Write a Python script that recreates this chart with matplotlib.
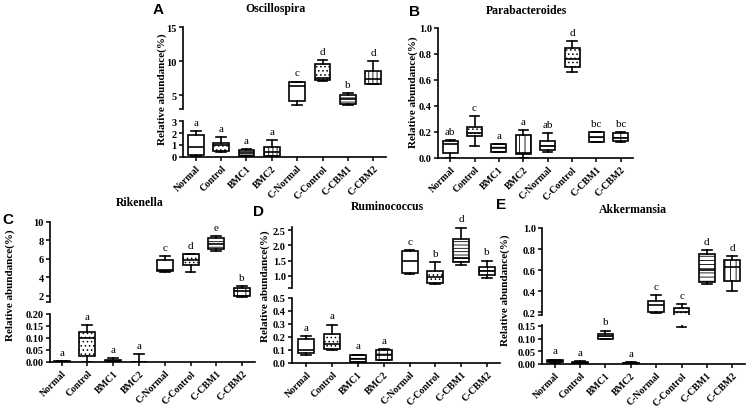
import matplotlib
matplotlib.use("Agg")
import matplotlib.pyplot as plt
from matplotlib.ticker import FixedLocator

# groups on every panel
groups = ["Normal", "Control", "BMC1", "BMC2", "C-Normal", "C-Control", "C-CBM1", "C-CBM2"]

# box stats per group: [whisker low, q1, median, q3, whisker high]
oscillospira = [[0.05, 0.2, 0.85, 1.85, 2.15], [0.45, 0.5, 1.0, 1.2, 1.65],
                [0.05, 0.1, 0.3, 0.55, 0.65], [0.05, 0.1, 0.45, 0.8, 1.4],
                [3.6, 4.1, 6.3, 6.9, 7.0], [7.1, 7.3, 7.5, 9.6, 10.2],
                [3.6, 3.8, 4.5, 5.0, 5.3], [6.6, 6.7, 7.4, 8.6, 10.0]]
oscillospira_sig = ["a", "a", "a", "a", "c", "d", "b", "d"]

parabacteroides = [[0.0, 0.035, 0.11, 0.13, 0.14], [0.095, 0.17, 0.19, 0.24, 0.32],
                   [0.045, 0.05, 0.075, 0.105, 0.11], [0.0, 0.03, 0.04, 0.18, 0.215],
                   [0.045, 0.06, 0.09, 0.13, 0.19], [0.66, 0.70, 0.76, 0.85, 0.90],
                   [0.12, 0.125, 0.16, 0.2, 0.2], [0.12, 0.13, 0.155, 0.19, 0.2]]
parabacteroides_sig = ["ab", "c", "a", "a", "ab", "d", "bc", "bc"]

rikenella = [[0.0, 0.0, 0.001, 0.003, 0.004], [0.0, 0.025, 0.10, 0.125, 0.155],
             [0.0, 0.002, 0.005, 0.01, 0.018], [0.0, 0.0, 0.0, 0.001, 0.033],
             [4.55, 4.65, 4.85, 5.9, 6.35], [4.6, 5.3, 5.9, 6.5, 6.55],
             [6.9, 7.1, 7.65, 8.25, 8.5], [1.9, 1.95, 2.5, 2.85, 3.05]]
rikenella_sig = ["a", "a", "a", "a", "c", "d", "e", "b"]

ruminococcus = [[0.065, 0.075, 0.1, 0.185, 0.205], [0.1, 0.11, 0.145, 0.22, 0.295],
                [0.0, 0.005, 0.03, 0.065, 0.065], [0.02, 0.025, 0.06, 0.1, 0.11],
                [1.07, 1.1, 1.48, 1.82, 1.85], [0.72, 0.78, 0.95, 1.15, 1.45],
                [1.36, 1.45, 1.6, 2.22, 2.58], [0.92, 1.02, 1.15, 1.28, 1.5]]
ruminococcus_sig = ["a", "a", "a", "a", "c", "b", "d", "b"]

akkermansia = [[0.005, 0.008, 0.012, 0.015, 0.017], [0.0, 0.0, 0.003, 0.008, 0.012],
               [0.097, 0.1, 0.11, 0.118, 0.131], [0.0, 0.0, 0.002, 0.004, 0.006],
               [0.19, 0.2, 0.27, 0.31, 0.36], [0.145, 0.165, 0.20, 0.24, 0.28],
               [0.465, 0.49, 0.6, 0.75, 0.79], [0.40, 0.5, 0.63, 0.70, 0.73]]
akkermansia_sig = ["a", "a", "b", "a", "c", "c", "d", "d"]

W, H = 747, 414
plt.rcParams["font.family"] = "Liberation Serif"
plt.rcParams["font.weight"] = "bold"
plt.rcParams["hatch.linewidth"] = 0.6

fig = plt.figure(figsize=(W / 100, H / 100), dpi=100)


def px_rect(x0, y0, x1, y1):
    return [x0 / W, 1 - y1 / H, (x1 - x0) / W, (y1 - y0) / H]


def style_axis(ax, yticks, ylabels, ylim, xlim, bottom):
    ax.set_ylim(*ylim)
    ax.set_xlim(*xlim)
    ax.spines["top"].set_visible(False)
    ax.spines["right"].set_visible(False)
    ax.spines["left"].set_linewidth(1.2)
    ax.spines["bottom"].set_linewidth(1.2)
    ax.set_yticks(yticks)
    ax.set_yticklabels(ylabels, fontsize=7.5)
    ax.tick_params(axis="both", direction="out", length=3, width=1.1, pad=1.5)
    if bottom:
        ax.set_xticks(range(len(groups)))
        ax.set_xticklabels(groups, rotation=45, ha="right", rotation_mode="anchor", fontsize=7)
    else:
        ax.spines["bottom"].set_visible(False)
        ax.set_xticks([])
        # small end tick where the axis is broken
        ax.yaxis.set_minor_locator(FixedLocator([ylim[0]]))
        ax.tick_params(axis="y", which="minor", length=3, width=1.1)


def draw_boxes(ax, stats, hatches):
    st = [dict(whislo=s[0], q1=s[1], med=s[2], q3=s[3], whishi=s[4], fliers=[]) for s in stats]
    parts = ax.bxp(st, positions=range(len(st)), widths=0.62, capwidths=0.38,
                   showfliers=False, patch_artist=True, manage_ticks=False,
                   boxprops=dict(facecolor="white", edgecolor="black", linewidth=1.2),
                   medianprops=dict(color="black", linewidth=1.2),
                   whiskerprops=dict(color="black", linewidth=1.2),
                   capprops=dict(color="black", linewidth=1.2))
    for box, h in zip(parts["boxes"], hatches):
        box.set_hatch(h)


def add_letters(ax, stats, letters):
    for i, (s, t) in enumerate(zip(stats, letters)):
        ax.annotate(t, (i, s[4]), xytext=(0, 3), textcoords="offset points",
                    ha="center", va="bottom", fontsize=8, fontweight="normal")


def panel(x0, x1, xlim, stats, letters, hatches, parts):
    axes = []
    for k, (y0, y1, ylim, ticks, labels) in enumerate(parts):
        ax = fig.add_axes(px_rect(x0, y0, x1, y1))
        ax.patch.set_alpha(0)
        bottom = k == len(parts) - 1
        draw_boxes(ax, stats, hatches)
        style_axis(ax, ticks, labels, ylim, xlim, bottom)
        axes.append(ax)
    # letters go into the axis holding the top whisker
    if len(parts) == 1:
        add_letters(axes[0], stats, letters)
    else:
        top_low = parts[1][2][1]
        up = [(i, s, t) for i, (s, t) in enumerate(zip(stats, letters)) if s[4] > top_low]
        lo = [(i, s, t) for i, (s, t) in enumerate(zip(stats, letters)) if s[4] <= top_low]
        for ax, items in ((axes[0], up), (axes[1], lo)):
            for i, s, t in items:
                ax.annotate(t, (i, s[4]), xytext=(0, 3), textcoords="offset points",
                            ha="center", va="bottom", fontsize=8, fontweight="normal")
    return axes


# A
panel(183, 386, (-0.5, 7.5), oscillospira, oscillospira_sig,
      ["", "....", "-----", "|||+", "", "....", "----", "||||"],
      [(28, 110, (3, 15), [5, 10, 15], ["5", "10", "15"]),
       (122, 158, (0, 3), [0, 1, 2, 3], ["0", "1", "2", "3"])])
# B
panel(438, 633, (-0.5, 7.5), parabacteroides, parabacteroides_sig,
      ["", "....", "---", "|||", "--", "....", "--", "++"],
      [(29, 159, (0, 1.0), [0, 0.2, 0.4, 0.6, 0.8, 1.0],
        ["0.0", "0.2", "0.4", "0.6", "0.8", "1.0"])])
# C
panel(50, 255, (-0.45, 7.5), rikenella, rikenella_sig,
      ["", "....", "---", "|||", "", "....", "---", "++"],
      [(223, 303, (1.35, 10), [2, 4, 6, 8, 10], ["2", "4", "6", "8", "10"]),
       (315, 363, (0, 0.2), [0, 0.05, 0.10, 0.15, 0.20],
        ["0.00", "0.05", "0.10", "0.15", "0.20"])])
# D
panel(292, 500, (-0.55, 7.5), ruminococcus, ruminococcus_sig,
      ["", "....", "-----", "++", "", "....", "-----", "++"],
      [(228, 289, (0.6, 2.6), [1.0, 1.5, 2.0, 2.5], ["1.0", "1.5", "2.0", "2.5"]),
       (299, 364, (0, 0.5), [0, 0.1, 0.2, 0.3, 0.4, 0.5],
        ["0.0", "0.1", "0.2", "0.3", "0.4", "0.5"])])
# E
panel(542, 745, (-0.5, 7.5), akkermansia, akkermansia_sig,
      ["", "....", "---", "|||", "", "....", "----", "|||"],
      [(229, 316, (0.175, 1.0), [0.2, 0.4, 0.6, 0.8, 1.0], ["0.2", "0.4", "0.6", "0.8", "1.0"]),
       (326, 365, (0, 0.153), [0, 0.05, 0.10, 0.15], ["0.00", "0.05", "0.10", "0.15"])])

# titles, panel letters and y labels
titles = ["Oscillospira", "Parabacteroides", "Rikenella", "Ruminococcus", "Akkermansia"]
title_xy = [(275, 9), (526, 11), (140, 203), (387, 207), (633, 210)]
letter_xy = [(158, 10), (415, 12), (8, 220), (258, 212), (501, 205)]
ylabel_xy = [(162, 89), (413, 92), (10, 285), (265, 286), (505, 290)]
for name, (tx, ty), (lx, ly), (yx, yy), tag in zip(titles, title_xy, letter_xy, ylabel_xy, "ABCDE"):
    fig.text(tx / W, 1 - ty / H, name, ha="center", va="center", fontsize=8.5)
    fig.text(lx / W, 1 - ly / H, tag, ha="center", va="center", fontsize=11,
             family="Liberation Sans", fontweight="bold")
    fig.text(yx / W, 1 - yy / H, "Relative abundance(%)", ha="center", va="center",
             rotation=90, fontsize=8)

fig.savefig("out.png", dpi=100)
